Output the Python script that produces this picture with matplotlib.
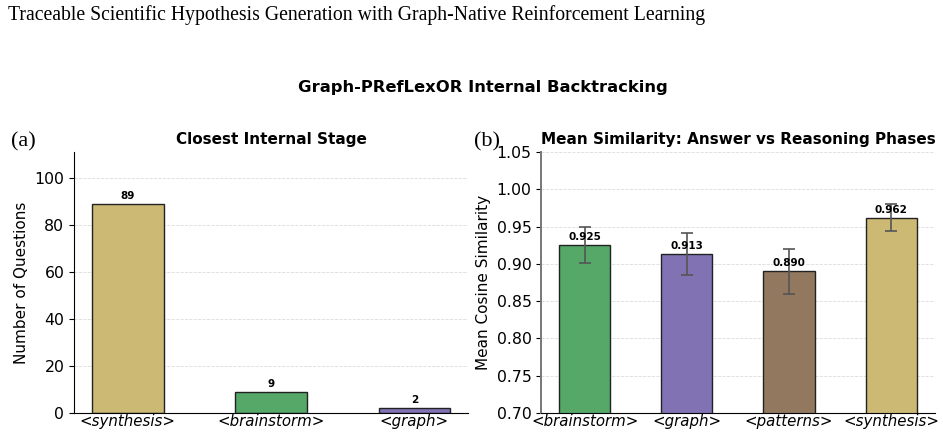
import matplotlib.pyplot as plt

# panel a: closest internal stage
stufen_a = ["<synthesis>", "<brainstorm>", "<graph>"]
anzahl_a = [89, 9, 2]
farben_a = ["#CCB974", "#55A868", "#8172B3"]

# panel b: mean similarity
stufen_b = ["<brainstorm>", "<graph>", "<patterns>", "<synthesis>"]
mittel_b = [0.925, 0.913, 0.890, 0.962]
fehler_b = [0.024, 0.028, 0.030, 0.018]
farben_b = ["#55A868", "#8172B3", "#937860", "#CCB974"]

fig = plt.figure(figsize=(9.43, 4.36), dpi=100)
ax1 = fig.add_axes([0.0785, 0.053, 0.418, 0.598])
ax2 = fig.add_axes([0.574, 0.053, 0.417, 0.598])

fig.text(0.008, 0.965, "Traceable Scientific Hypothesis Generation with Graph-Native Reinforcement Learning",
         family="Liberation Serif", fontsize=14.2, va="center", ha="left")
fig.suptitle("Graph-PRefLexOR Internal Backtracking", x=0.512, y=0.8, fontsize=11.8,
             fontweight="bold", va="center")

# (a)
x1 = range(len(stufen_a))
ax1.bar(x1, anzahl_a, width=0.5, color=farben_a, edgecolor="#222222", linewidth=1.0)
for i, v in enumerate(anzahl_a):
    ax1.text(i, v + 1.2, str(v), ha="center", va="bottom", fontsize=7.5, fontweight="bold")
ax1.set_ylim(0, 111)
ax1.set_xticks(list(x1))
ax1.set_xticklabels(stufen_a, fontstyle="italic", fontsize=10.8)
ax1.set_ylabel("Number of Questions", fontsize=11)
ax1.set_title("Closest Internal Stage", fontsize=11, fontweight="bold", pad=6)
ax1.grid(axis="y", linestyle="--", color="#cccccc", linewidth=0.6, alpha=0.7)
ax1.set_axisbelow(True)
ax1.text(-0.16, 1.04, "(a)", transform=ax1.transAxes, family="Liberation Serif", fontsize=16,
         va="center", ha="left")

# (b)
x2 = range(len(stufen_b))
ax2.bar(x2, mittel_b, width=0.5, color=farben_b, edgecolor="#222222", linewidth=1.0,
        yerr=fehler_b, capsize=4, error_kw=dict(ecolor="#555555", elinewidth=1.2, capthick=1.2))
for i, v in enumerate(mittel_b):
    ax2.text(i, v + 0.004, f"{v:.3f}", ha="center", va="bottom", fontsize=7.5, fontweight="bold")
ax2.set_ylim(0.70, 1.05)
ax2.set_xticks(list(x2))
ax2.set_xticklabels(stufen_b, fontstyle="italic", fontsize=10.8)
ax2.set_ylabel("Mean Cosine Similarity", fontsize=11)
ax2.set_title("Mean Similarity: Answer vs Reasoning Phases", fontsize=11, fontweight="bold", pad=6)
ax2.grid(axis="y", linestyle="--", color="#cccccc", linewidth=0.6, alpha=0.7)
ax2.set_axisbelow(True)
ax2.spines["left"].set_color("#777777")
ax2.spines["left"].set_linewidth(1.4)
ax2.text(-0.17, 1.04, "(b)", transform=ax2.transAxes, family="Liberation Serif", fontsize=16,
         va="center", ha="left")

for ax in (ax1, ax2):
    ax.spines["top"].set_visible(False)
    ax.spines["right"].set_visible(False)
    ax.tick_params(axis="y", labelsize=11.3)
    ax.tick_params(axis="x", length=0, pad=1)

fig.savefig("out.png", dpi=100)
